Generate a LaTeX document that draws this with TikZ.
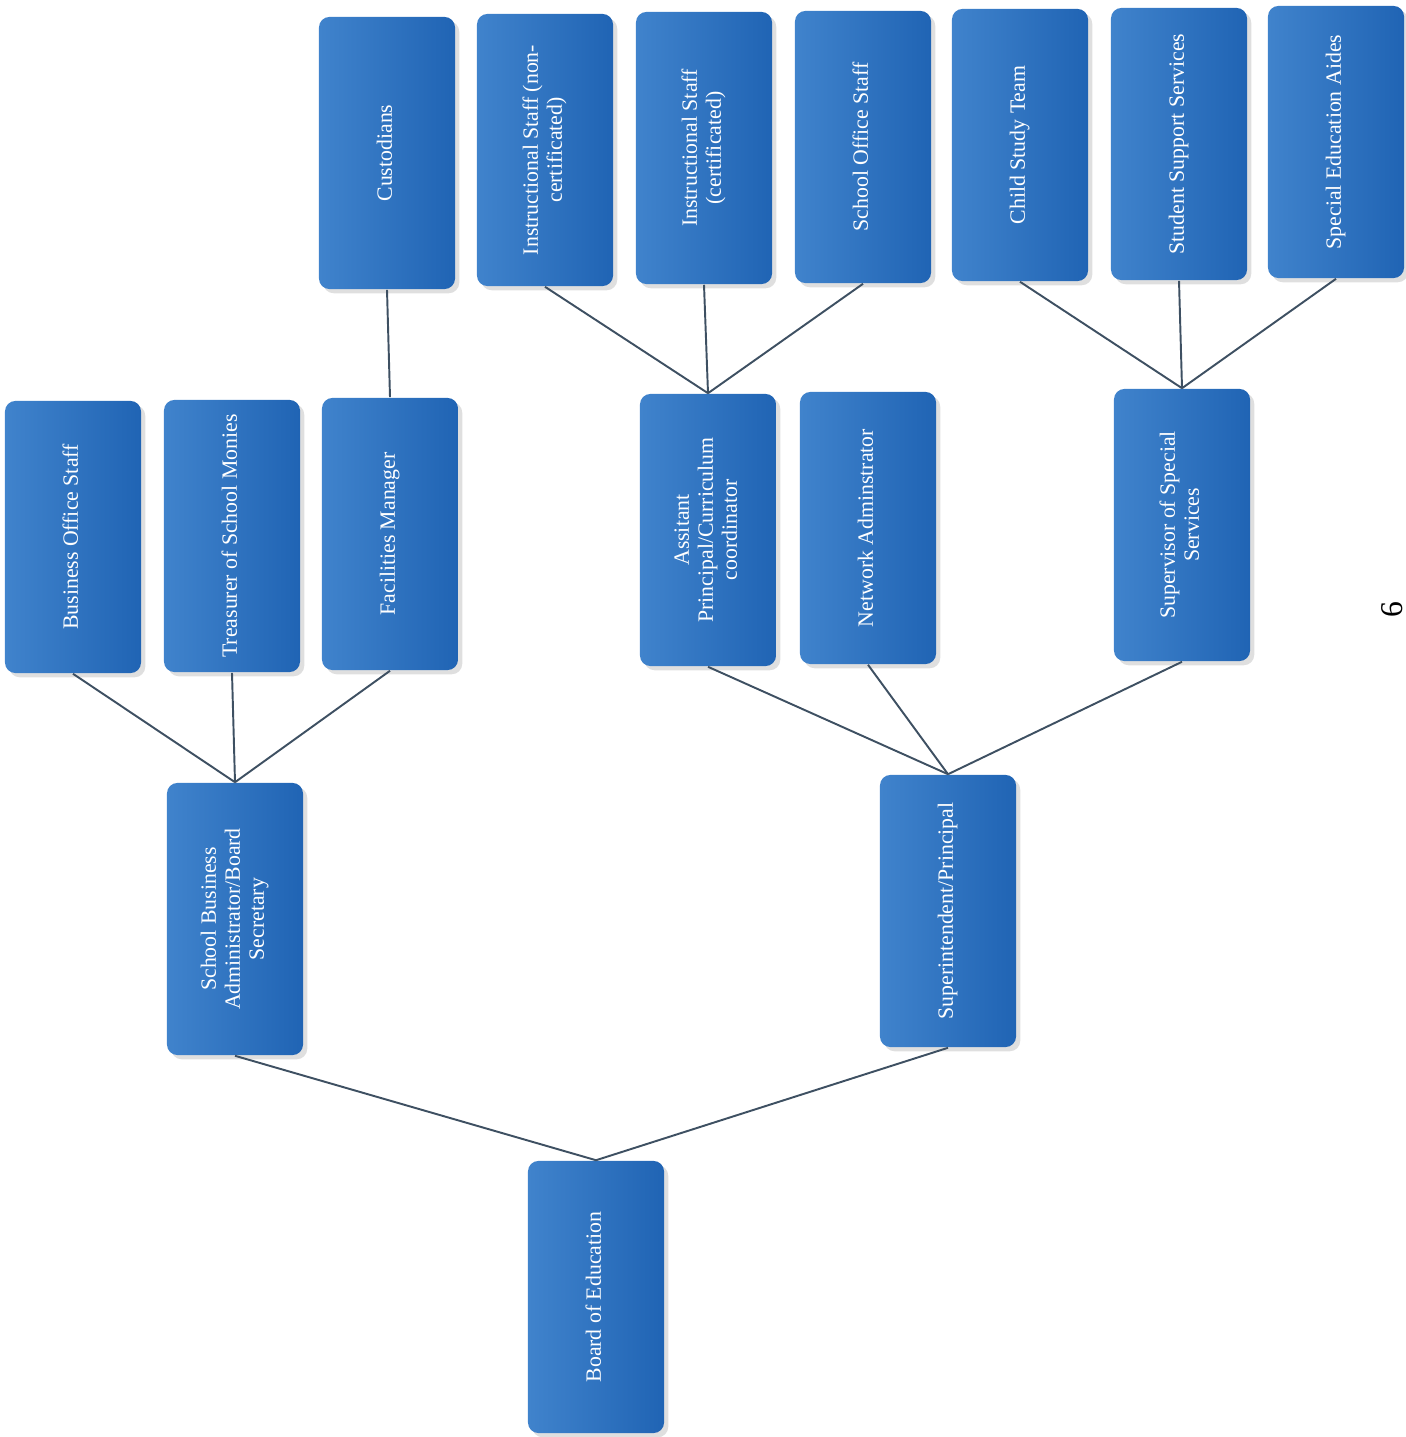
\documentclass[tikz,border=0pt]{standalone}
\usepackage{fontspec}
\setmainfont{Liberation Serif}
\usepackage{graphicx}
\usepackage{tikz}
\usetikzlibrary{shadows}

\definecolor{boxlight}{RGB}{64,131,204}
\definecolor{boxdark}{RGB}{32,100,180}
\definecolor{linkgray}{RGB}{62,80,98}

\newcommand{\vlabel}[1]{\rotatebox{90}{\renewcommand{\arraystretch}{1.1}\begin{tabular}{@{}c@{}}#1\end{tabular}}}

\begin{document}
\begin{tikzpicture}[x=0.01cm,y=-0.01cm,
  post/.style={rounded corners=3pt,left color=boxlight,right color=boxdark,
    minimum width=1.36cm,minimum height=2.72cm,inner sep=0pt,text=white,
    font=\fontsize{6.2}{6.2}\selectfont,
    drop shadow={shadow xshift=1.2pt,shadow yshift=-1.2pt,opacity=0.25}},
  link/.style={draw=linkgray,line width=0.55pt}]

\useasboundingbox (0,0) rectangle (1405,1437);

\node[post] (boe) at (596,1297) {\vlabel{Board of Education}};

\node[post] (sba) at (235,919) {\vlabel{School Business\\Administrator/Board\\Secretary}};
\node[post] (sup) at (948,911) {\vlabel{Superintendent/Principal}};

\node[post] (bos) at (73,537) {\vlabel{Business Office Staff}};
\node[post] (tsm) at (232,536) {\vlabel{Treasurer of School Monies}};
\node[post] (fm) at (390,534) {\vlabel{Facilities Manager}};
\node[post] (ap) at (708,530) {\vlabel{Assitant\\Principal/Curriculum\\coordinator}};
\node[post] (na) at (868,528) {\vlabel{Network Adminstrator}};
\node[post] (sss) at (1182,525) {\vlabel{Supervisor of Special\\Services}};

\node[post] (cus) at (387,153) {\vlabel{Custodians}};
\node[post] (isn) at (545,150) {\vlabel{Instructional Staff (non-\\certificated)}};
\node[post] (isc) at (704,148) {\vlabel{Instructional Staff\\(certificated)}};
\node[post] (sos) at (863,147) {\vlabel{School Office Staff}};
\node[post] (cst) at (1020,145) {\vlabel{Child Study Team}};
\node[post] (sts) at (1179,144) {\vlabel{Student Support Services}};
\node[post] (sea) at (1336,142) {\vlabel{Special Education Aides}};

\node (pg) at (1392,610) {\rotatebox{90}{\fontsize{9}{10}\selectfont 6}};

\foreach \c in {sba,sup}
  \draw[link] (boe.north) -- (\c.south);
\foreach \c in {bos,tsm,fm}
  \draw[link] (sba.north) -- (\c.south);
\foreach \c in {ap,na,sss}
  \draw[link] (sup.north) -- (\c.south);
\draw[link] (fm.north) -- (cus.south);
\foreach \c in {isn,isc,sos}
  \draw[link] (ap.north) -- (\c.south);
\foreach \c in {cst,sts,sea}
  \draw[link] (sss.north) -- (\c.south);

\end{tikzpicture}
\end{document}
